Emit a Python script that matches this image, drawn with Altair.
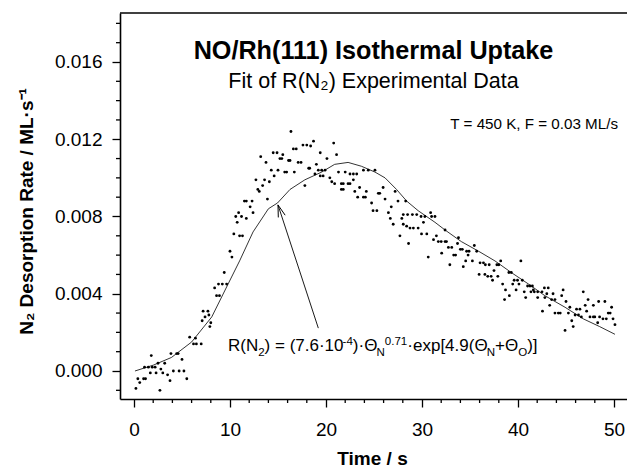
import math
import altair as alt
import pandas as pd

FONT = "Liberation Sans"

# ---------------- data ----------------
time_s = [0.2, 0.6, 0.4, 1.0, 1.2, 1.1, 1.5, 1.9, 2.2, 1.8, 1.7, 2.3, 3.0, 2.5, 2.7, 2.8, 3.2,
          3.5, 3.75, 3.85, 4.45, 4.6, 4.1, 4.7, 5.2, 5.0, 5.5, 5.8, 6.2, 6.5, 6.4,
          7.2, 7.7, 7.1, 7.4, 7.8, 7.0, 8.0, 7.9, 8.4, 8.8, 9.2, 8.6, 8.9, 9.4, 9.65,
          10.0, 10.2, 10.4, 11.0, 11.3, 10.6, 11.2, 10.75, 10.9, 11.5,
          16.35, 18.7, 20.8, 17.6, 18.0, 18.4, 16.6, 16.9, 14.5, 14.9, 15.5, 19.4, 21.1,
          13.2, 15.2, 15.4, 16.1, 16.25, 17.1, 17.4, 20.1, 13.75, 19.0, 14.3, 15.0, 15.7,
          15.9, 16.7, 18.2, 18.3, 19.2, 19.55, 19.9, 21.3, 18.85, 19.4, 19.7, 14.6, 12.7,
          13.6, 14.1, 13.4, 20.4, 20.6, 20.9, 21.6, 21.8, 17.8, 21.6, 21.8, 12.9, 13.05,
          13.9, 11.7, 12.3, 12.1, 12.4, 11.7,
          22.0, 22.5, 22.85, 23.2, 22.3, 22.5, 22.85, 23.0, 23.5, 24.2, 23.3, 23.9, 24.1,
          24.4, 23.9, 25.1, 24.75, 24.9, 25.3, 25.45, 25.6, 25.95, 26.15, 26.5, 26.8, 26.7,
          27.0, 27.2, 27.5, 27.7, 27.9, 28.05, 28.4, 28.75, 29.1, 29.6, 28.05, 28.5, 29.0,
          28.3, 28.6, 29.45, 29.9, 30.3, 29.95, 30.5, 30.15, 30.9, 31.0, 31.35, 30.65, 31.2,
          31.7, 32.0, 32.4, 31.5, 32.05, 32.4, 32.75, 33.1, 32.9, 33.3,
          32.55, 33.8, 33.7, 33.5, 34.0, 34.2, 34.65, 34.9, 35.45, 35.7, 34.55, 34.8, 34.3,
          35.25, 35.95, 36.05, 36.4, 36.6, 37.0, 36.55, 36.85, 37.2, 37.35, 37.5, 37.8, 38.0,
          37.9, 38.2, 38.4, 38.7, 38.6, 39.05, 39.3, 39.1, 39.45, 39.6, 39.95, 39.8, 40.3,
          40.1, 40.45, 40.65, 40.8, 41.0, 41.25, 41.5, 41.35, 41.7, 42.05, 41.6, 42.05, 42.75,
          43.15, 42.55, 42.8, 43.3, 43.5, 43.85, 43.65, 43.85, 44.2,
          42.5, 43.0, 44.4, 44.7, 44.55, 45.0, 45.25, 44.9, 45.4, 45.6, 45.75, 45.95, 46.3,
          46.1, 46.45, 46.6, 46.8, 47.0, 47.15, 47.3, 47.5, 47.85, 48.0, 47.85, 48.4, 48.5,
          48.85, 49.2, 49.05, 48.3, 49.4, 49.6, 49.75, 49.9, 50.1]
rate = [-0.0009, -0.0006, -0.0004, -0.0004, -0.0004, 0.0002, 0.0002, 0.0002, 0.0002, 0.0008, -0.0001, -0.0001, -0.0001, 0.0004, -0.0010, 0.0001, 0.0004,
        -0.0002, -0.0005, 0.0009, 0.0009, 0.0009, 0.0000, 0.0000, 0.0000, 0.0006, -0.0004, 0.00175, 0.0014, 0.0014, 0.0017,
        0.0031, 0.0031, 0.0026, 0.0028, 0.0029, 0.0014, 0.0025, 0.0023, 0.0043, 0.0045, 0.0045, 0.0039, 0.0039, 0.0051, 0.0045,
        0.0062, 0.0059, 0.0071, 0.0070, 0.0070, 0.0080, 0.0080, 0.0077, 0.0082, 0.0088,
        0.0124, 0.0119, 0.0118, 0.0117, 0.0117, 0.01165, 0.0115, 0.0115, 0.0113, 0.0113, 0.0112, 0.0113, 0.0112,
        0.0111, 0.0110, 0.0110, 0.0109, 0.0109, 0.0108, 0.0108, 0.0110, 0.0108, 0.0107, 0.0104, 0.0104, 0.0103,
        0.0103, 0.0103, 0.0105, 0.0105, 0.0104, 0.0104, 0.0104, 0.0103, 0.0102, 0.0101, 0.0101, 0.0101, 0.0099,
        0.0099, 0.0098, 0.0096, 0.0100, 0.0098, 0.0097, 0.0097, 0.0097, 0.0096, 0.0094, 0.0094, 0.0094, 0.0093,
        0.0089, 0.0088, 0.0088, 0.0085, 0.0082, 0.0079,
        0.0103, 0.0102, 0.0102, 0.0102, 0.0097, 0.0097, 0.0099, 0.0093, 0.0095, 0.0093, 0.0090, 0.0090, 0.0090,
        0.0104, 0.0104, 0.0104, 0.0087, 0.0083, 0.0083, 0.0092, 0.0092, 0.0095, 0.0089, 0.0082, 0.0085, 0.0079,
        0.0076, 0.0093, 0.0088, 0.0070, 0.0079, 0.0076, 0.0075, 0.0074, 0.0074, 0.0074, 0.0081, 0.0081, 0.0081,
        0.0088, 0.0066, 0.0081, 0.0080, 0.0080, 0.0071, 0.0071, 0.0077, 0.0082, 0.0080, 0.0080, 0.0059, 0.0068,
        0.0067, 0.0067, 0.0067, 0.0070, 0.0061, 0.0073, 0.0064, 0.0064, 0.0055, 0.0060,
        0.0067, 0.0069, 0.0066, 0.0060, 0.0063, 0.0063, 0.0062, 0.0062, 0.0065, 0.0062, 0.0057, 0.0060, 0.0054,
        0.0057, 0.0050, 0.0056, 0.0056, 0.0055, 0.0055, 0.0050, 0.0049, 0.0049, 0.0047, 0.0052, 0.0055, 0.0055,
        0.0049, 0.0057, 0.0045, 0.0042, 0.0037, 0.0051, 0.0051, 0.0039, 0.0045, 0.0047, 0.0047, 0.0042, 0.0057,
        0.0045, 0.0047, 0.0041, 0.0038, 0.0044, 0.0044, 0.0044, 0.0041, 0.0041, 0.0041, 0.0042, 0.0038, 0.0043,
        0.0043, 0.0031, 0.0038, 0.0034, 0.0037, 0.0037, 0.0040, 0.0030, 0.0030,
        0.0041, 0.0040, 0.0030, 0.0042, 0.0039, 0.0036, 0.0030, 0.0021, 0.0033, 0.0026, 0.0023, 0.0029, 0.0029,
        0.0032, 0.0032, 0.0028, 0.0041, 0.0034, 0.0031, 0.0037, 0.0028, 0.0028, 0.0028, 0.0034, 0.0036, 0.0028,
        0.0027, 0.0027, 0.0036, 0.0025, 0.0030, 0.0030, 0.0033, 0.0027, 0.0024]

fit_t = [0.1, 2.0, 3.9, 6.0, 8.1, 9.8, 11.0, 12.4, 14.0, 14.95, 16.25, 17.8, 19.55, 20.9, 22.3,
         23.7, 25.1, 26.15, 27.35, 28.4, 29.6, 31.35, 32.4, 34.1, 35.9, 37.6, 39.3, 41.1,
         42.8, 44.9, 46.8, 48.5, 50.1]
fit_r = [0.0, 0.0003, 0.0007, 0.0015, 0.0028, 0.0045, 0.0057, 0.0072, 0.0084, 0.0087, 0.0094,
         0.0099, 0.0103, 0.0107, 0.0108, 0.0106, 0.0103, 0.0100, 0.0094, 0.0088, 0.0083,
         0.0077, 0.0073, 0.0067, 0.0062, 0.0057, 0.0051, 0.0045, 0.0039, 0.0033, 0.0027,
         0.0023, 0.0019]

x_major = [0, 10, 20, 30, 40, 50]
x_minor = [2, 4, 6, 8, 12, 14, 16, 18, 22, 24, 26, 28, 32, 34, 36, 38, 42, 44, 46, 48]
y_major = [0.0, 0.004, 0.008, 0.012, 0.016]
y_minor = [-0.001, 0.001, 0.002, 0.003, 0.005, 0.006, 0.007, 0.009, 0.010, 0.011, 0.013,
           0.014, 0.015, 0.017, 0.018]

arrow_tail = (19.2, 0.00222)
arrow_tip = (15.0, 0.0086)
formula_at = (9.79, 0.00101)
cond_at = (32.95, 0.01253)

title_text = "NO/Rh(111) Isothermal Uptake"
subtitle_text = "Fit of R(N\u2082) Experimental Data"
cond_text = "T = 450 K, F = 0.03 ML/s"
x_title = "Time / s"
y_title = "N\u2082 Desorption Rate / ML\u00b7s\u207b\u00b9"
formula_parts = [("R(N", "n"), ("2", "sub"), (") = (7.6\u00b710", "n"), ("-4", "sup"),
                 (")\u00b7\u0398", "n"), ("N", "sub"), ("0.71", "sup"),
                 ("\u00b7exp[4.9(\u0398", "n"), ("N", "sub"), ("+\u0398", "n"),
                 ("O", "sub"), (")]", "n")]

# ---------------- layout ----------------
W, H = 507, 386
XD = [-1.458, 51.354]
YD = [-0.00145, 0.018537]
px_per_x = W / (XD[1] - XD[0])
px_per_y = H / (YD[1] - YD[0])

xs = alt.Scale(domain=XD, nice=False, zero=False)
ys = alt.Scale(domain=YD, nice=False, zero=False)

df = pd.DataFrame({"t": time_s, "v": rate})
fit_df = pd.DataFrame({"t": fit_t, "v": fit_r})

x_axis = alt.Axis(
    values=x_major, format="d",
    tickSize=8, tickColor="black", tickWidth=1.3, domainColor="black", domainWidth=1.6,
    labelFont=FONT, labelFontSize=19, labelColor="black", labelPadding=13,
    labelFlush=False, labelOverlap=False, grid=False,
    title=x_title, titleFont=FONT, titleFontSize=19, titleFontWeight="bold",
    titleColor="black", titleX=252, titleY=65, titleBaseline="alphabetic",
    titleAlign="center", titleAngle=0,
)
y_axis = alt.Axis(
    values=y_major, format=".3f",
    tickSize=8, tickColor="black", tickWidth=1.3, domainColor="black", domainWidth=1.6,
    labelFont=FONT, labelFontSize=19, labelColor="black", labelPadding=10,
    labelFlush=False, labelOverlap=False, grid=False,
    title=y_title, titleFont=FONT, titleFontSize=19, titleFontWeight="bold",
    titleColor="black", titleX=-88, titleY=198, titleAngle=270,
    titleBaseline="alphabetic", titleAlign="center",
)

points = alt.Chart(df).mark_circle(size=8, color="black", opacity=1).encode(
    x=alt.X("t:Q", scale=xs, axis=x_axis),
    y=alt.Y("v:Q", scale=ys, axis=y_axis),
)

fit_line = alt.Chart(fit_df).mark_line(color="black", strokeWidth=0.8).encode(
    x="t:Q", y="v:Q", order="t:Q")

# minor ticks
xminor_df = pd.DataFrame({"t": x_minor})
xminor = alt.Chart(xminor_df).mark_rule(color="black", strokeWidth=1.3).encode(
    x="t:Q", y=alt.value(H), y2=alt.value(H + 4))
yminor_df = pd.DataFrame({"v": y_minor})
yminor = alt.Chart(yminor_df).mark_rule(color="black", strokeWidth=1.3).encode(
    y="v:Q", x=alt.value(-4), x2=alt.value(0))

arrow_df = pd.DataFrame({"t": [arrow_tail[0]], "v": [arrow_tail[1]],
                         "t2": [arrow_tip[0]], "v2": [arrow_tip[1]]})
arrow_line = alt.Chart(arrow_df).mark_rule(color="black", strokeWidth=0.9).encode(
    x="t:Q", y="v:Q", x2="t2:Q", y2="v2:Q")

dxp = (arrow_tip[0] - arrow_tail[0]) * px_per_x
dyp = -(arrow_tip[1] - arrow_tail[1]) * px_per_y
ang = math.degrees(math.atan2(dxp, -dyp)) % 360
head_df = pd.DataFrame({"t": [arrow_tip[0]], "v": [arrow_tip[1]]})
arrow_head = alt.Chart(head_df).mark_point(
    shape="M -0.3 1 L 0 0 L 0.3 1", filled=False, color="black", strokeWidth=0.9,
    size=576, angle=ang, opacity=1).encode(x="t:Q", y="v:Q")

# formula built from pieces
FS = 17
SMALL = FS * 0.68
AW = {' ': 278, '(': 333, ')': 333, '.': 278, '=': 584, '+': 584, '-': 333, '[': 278,
      ']': 278, 'R': 722, 'N': 722, 'O': 778, 'e': 556, 'x': 500, 'p': 556,
      '\u00b7': 278, '\u0398': 778}


def text_w(s, size):
    return sum(AW.get(c, 556) for c in s) * size / 1000.0


formula_layers = []
cur = 0.0
for txt, kind in formula_parts:
    size = FS if kind == "n" else SMALL
    dy = 0 if kind == "n" else (4.5 if kind == "sub" else -6.5)
    fd = pd.DataFrame({"t": [formula_at[0]], "v": [formula_at[1]], "label": [txt]})
    formula_layers.append(
        alt.Chart(fd).mark_text(align="left", baseline="alphabetic", font=FONT,
                                fontSize=size, color="black", dx=cur, dy=dy)
        .encode(x="t:Q", y="v:Q", text="label:N"))
    cur += text_w(txt, size)

cond_df = pd.DataFrame({"t": [cond_at[0]], "v": [cond_at[1]], "label": [cond_text]})
cond = alt.Chart(cond_df).mark_text(align="left", baseline="alphabetic", font=FONT,
                                    fontSize=15.2, color="black").encode(
    x="t:Q", y="v:Q", text="label:N")

title_df = pd.DataFrame({"label": [title_text]})
title = alt.Chart(title_df).mark_text(align="center", baseline="alphabetic", font=FONT,
                                      fontSize=25.2, fontWeight="bold", color="black").encode(
    x=alt.value(W / 2), y=alt.value(46.3), text="label:N")
sub_df = pd.DataFrame({"label": [subtitle_text]})
subtitle = alt.Chart(sub_df).mark_text(align="center", baseline="alphabetic", font=FONT,
                                       fontSize=21.5, color="black").encode(
    x=alt.value(W / 2), y=alt.value(75.3), text="label:N")

top_border = alt.Chart(title_df).mark_rule(color="black", strokeWidth=1.6).encode(
    x=alt.value(0), x2=alt.value(W), y=alt.value(0))

chart = alt.layer(points, fit_line, xminor, yminor, arrow_line, arrow_head,
                  *formula_layers, cond, title, subtitle, top_border).properties(
    width=W, height=H,
    autosize=alt.AutoSizeParams(type="none"),
    padding={"left": 120, "top": 13, "right": 0, "bottom": 70},
    background="white",
).configure_view(stroke=None)

chart.save("out.html", embed_options={"renderer": "svg", "actions": False})
